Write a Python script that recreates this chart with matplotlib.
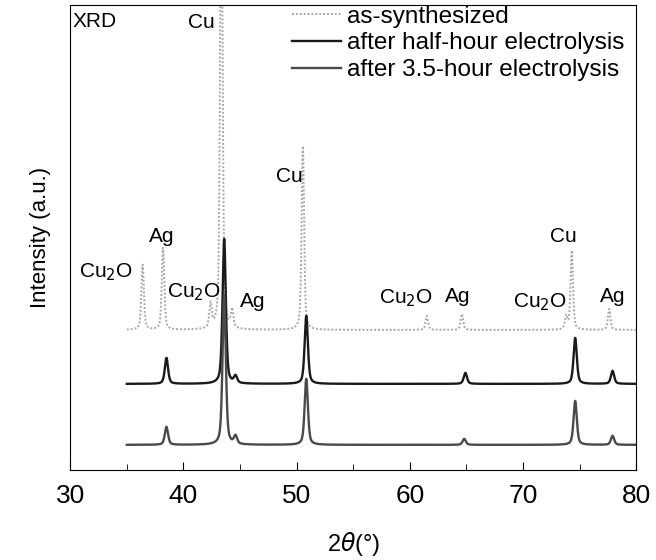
import numpy as np
import matplotlib.pyplot as plt
from matplotlib.ticker import MultipleLocator

plt.rcParams['font.family'] = ['Liberation Sans', 'DejaVu Sans']

# peak tables: position (2theta), height above baseline (a.u.)
as_syn_pos = [36.4, 38.2, 42.4, 43.35, 44.3, 50.55, 61.5, 64.6, 73.8, 74.3, 77.6]
as_syn_hgt = [65, 82, 24, 480, 18, 184, 14, 16, 13, 79, 21]
half_pos = [38.5, 43.6, 44.6, 50.85, 64.9, 74.6, 77.9]
half_hgt = [26, 145, 7, 68, 11, 46, 13]
long_pos = [38.5, 43.6, 44.6, 50.85, 64.8, 74.6, 77.9]
long_hgt = [18, 150, 8, 66, 6, 44, 9]

base_as_syn = 140
base_half = 86
base_long = 25

labels = ['as-synthesized', 'after half-hour electrolysis', 'after 3.5-hour electrolysis']

# phase labels: text, x, y
ann = [('Cu$_2$O', 33.2, 198), ('Ag', 38.1, 233), ('Cu$_2$O', 40.9, 178),
       ('Ag', 46.1, 168), ('Cu', 41.6, 448), ('Cu', 49.4, 293),
       ('Cu$_2$O', 59.7, 172), ('Ag', 64.2, 173), ('Cu$_2$O', 71.5, 168),
       ('Cu', 73.6, 233), ('Ag', 77.9, 173)]


def pattern(pos, hgt, base, w=0.16):
    x = np.linspace(35, 80, 3000)
    y = np.full_like(x, base, dtype=float)
    for p, h in zip(pos, hgt):
        lor = 1 / (1 + ((x - p) / w) ** 2)
        gau = np.exp(-np.log(2) * ((x - p) / w) ** 2)
        y += h * (0.5 * lor + 0.5 * gau)
    return x, y


fig = plt.figure(figsize=(6.56, 5.6), dpi=100)
ax = fig.add_axes([0.107, 0.161, 0.863, 0.830])

x, y = pattern(as_syn_pos, as_syn_hgt, base_as_syn, w=0.13)
ax.plot(x, y, color='#a8a8a8', lw=1.4, ls=(0, (1, 1)), label=labels[0])
x, y = pattern(half_pos, half_hgt, base_half, w=0.17)
ax.plot(x, y, color='#1a1a1a', lw=1.7, label=labels[1])
x, y = pattern(long_pos, long_hgt, base_long, w=0.17)
ax.plot(x, y, color='#4a4a4a', lw=1.7, label=labels[2])

for t, tx, ty in ann:
    ax.text(tx, ty, t, fontsize=15, ha='center', va='center')
ax.text(0.005, 0.985, 'XRD', transform=ax.transAxes, fontsize=15, ha='left', va='top')

ax.set_xlim(30, 80)
ax.set_ylim(0, 465)
ax.set_yticks([])
ax.xaxis.set_major_locator(MultipleLocator(10))
ax.xaxis.set_minor_locator(MultipleLocator(5))
ax.tick_params(axis='x', which='both', direction='in', labelsize=19, top=False, pad=10)
ax.tick_params(axis='x', which='major', length=6)
ax.tick_params(axis='x', which='minor', length=4)
ax.set_xlabel(r'2$\theta$(°)', fontsize=17, labelpad=16)
ax.set_ylabel('Intensity (a.u.)', fontsize=16, labelpad=14)

ax.legend(loc='upper right', bbox_to_anchor=(1.0, 1.025), frameon=False, fontsize=17.5,
          handlelength=2.0, handletextpad=0.25, labelspacing=0.2, borderaxespad=0.1)

fig.savefig('out.png', dpi=100)
